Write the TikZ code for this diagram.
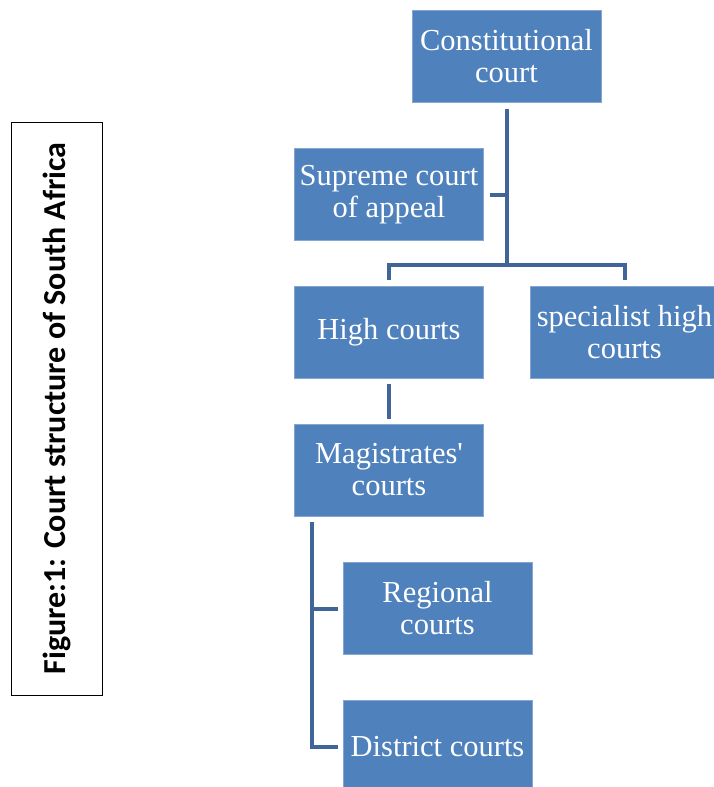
\documentclass[tikz,border=0pt]{standalone}
\usepackage{fontspec}
\setmainfont{Liberation Serif}
\newfontfamily\captionfont{Carlito}
\usepackage{tikz}
\usetikzlibrary{positioning}
\definecolor{courtblue}{RGB}{79,129,189}
\definecolor{linkblue}{RGB}{64,102,152}

\begin{document}
\begin{tikzpicture}[x=1pt,y=-1pt,
    court/.style={fill=courtblue, draw=courtblue!70!white, text=white,
        minimum width=189pt, minimum height=92pt, inner sep=0pt, align=center,
        font=\fontsize{30.5}{32}\selectfont},
    link/.style={draw=linkblue, line width=4pt}]
        \useasboundingbox (0,0) rectangle (713,787);

        % Caption box
        \node[draw=black, line width=0.8pt, rotate=90, minimum width=573pt, minimum height=91pt,
            font=\captionfont\bfseries\fontsize{32}{34}\selectfont] (caption) at (56.5,408.5)
            {Figure:1: Court structure of South Africa};

        % Courts
        \node[court] (const) at (506.5,56.5) {Constitutional\\court};
        \node[court] (sca) at (389,194.5) {Supreme court\\of appeal};
        \node[court] (high) at (389,332.5) {High courts};
        \node[court] (spec) at (624.5,332.5) {specialist high\\courts};
        \node[court] (mag) at (389,470) {Magistrates\textquotesingle\\courts};
        \node[court] (reg) at (437.5,608.5) {Regional\\courts};
        \node[court] (dist) at (437.5,746.5) {District courts};

        % Junctions
        \coordinate (bar) at (506.5,265);
        \coordinate (spine) at (312,0);

        % Links
        \draw[link, shorten <=6pt] (const.south) -- (bar);
        \draw[link, shorten <=6pt] (sca.east) -- (const.south |- sca.east);
        \draw[link] ([yshift=6pt]high.north) |- (bar) -| ([yshift=6pt]spec.north);
        \draw[link] ([yshift=-5pt]high.south) -- ([yshift=5pt]mag.north);
        \draw[link] ([yshift=-6pt]mag.south -| spine) |- ([xshift=-5pt]dist.west);
        \draw[link] (spine |- reg.west) -- ([xshift=-5pt]reg.west);
    \end{tikzpicture}
\end{document}
